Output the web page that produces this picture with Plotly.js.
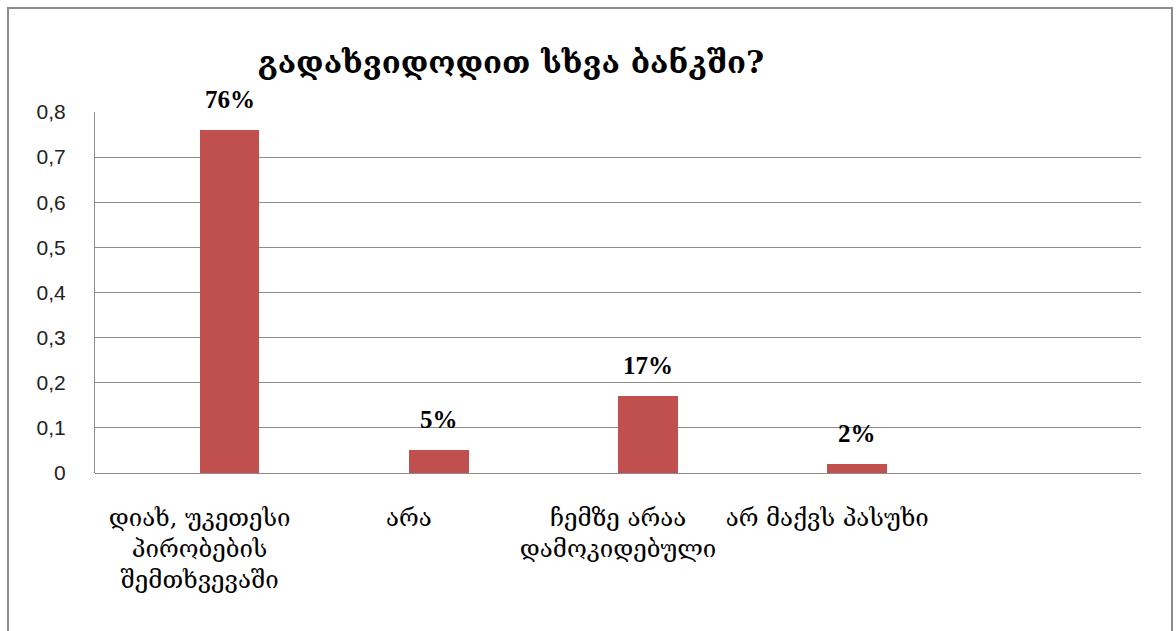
<!DOCTYPE html>
<html>
<head>
<meta charset="utf-8">
<script src="https://cdn.plot.ly/plotly-3.0.1.min.js"></script>
<style>
  html, body { margin: 0; padding: 0; background: #ffffff; }
  #wrap { position: relative; width: 1176px; height: 631px; overflow: hidden; }
  #chart { position: absolute; left: 0; top: 0; width: 1176px; height: 631px; }
  #frame { position: absolute; left: 7px; top: 7px; width: 1162px; height: 700px;
           border: 2px solid #8c8c8c; pointer-events: none; }
</style>
</head>
<body>
<div id="wrap">
  <div id="chart"></div>
  <div id="frame"></div>
</div>
<script>
const chartTitle = 'გადახვიდოდით სხვა ბანკში?';
const categories = [
  'დიახ, უკეთესი<br>პირობების<br>შემთხვევაში',
  'არა',
  'ჩემზე არაა<br>დამოკიდებული',
  'არ მაქვს პასუხი',
  ' '
];
const values = [0.76, 0.05, 0.17, 0.02];
const valueLabels = ['76%', '5%', '17%', '2%'];
const yTicks = [0, 0.1, 0.2, 0.3, 0.4, 0.5, 0.6, 0.7, 0.8];

const georgian = '"DejaVu Serif", "DejaVu Sans", serif';

const trace = {
  type: 'bar',
  x: categories.slice(0, values.length),
  y: values,
  width: 0.2857,
  offset: 0,
  marker: { color: '#C0504D' },
  hoverinfo: 'skip'
};

const annotations = values.map((v, i) => ({
  x: categories[i],
  y: v,
  xref: 'x', yref: 'y',
  text: valueLabels[i],
  showarrow: false,
  xshift: 30,
  yshift: 15,
  yanchor: 'bottom',
  font: { family: '"Liberation Serif", "Times New Roman", serif', size: 25, color: '#000000', weight: 'bold' }
}));

const layout = {
  width: 1176,
  height: 631,
  margin: { l: 95, r: 35, t: 112, b: 158 },
  paper_bgcolor: '#ffffff',
  plot_bgcolor: '#ffffff',
  separators: ',.',
  showlegend: false,
  title: {
    text: '<b>' + chartTitle + '</b>',
    x: 511 / 1176, xanchor: 'center', xref: 'container',
    y: 0.902, yanchor: 'middle', yref: 'container',
    font: { family: georgian, size: 31, color: '#000000' }
  },
  xaxis: {
    type: 'category',
    categoryorder: 'array',
    categoryarray: categories,
    range: [-0.5, 4.5],
    showgrid: false,
    zeroline: false,
    showline: false,
    ticks: '',
    tickfont: { family: georgian, size: 24, color: '#000000' },
    ticklabelstandoff: 28
  },
  yaxis: {
    range: [0, 0.8],
    tickvals: yTicks,
    showgrid: true,
    gridcolor: '#8c8c8c',
    gridwidth: 1,
    zeroline: true,
    zerolinecolor: '#8c8c8c',
    zerolinewidth: 1,
    showline: true,
    linecolor: '#8c8c8c',
    linewidth: 1,
    ticks: '',
    tickfont: { family: '"Liberation Sans", "DejaVu Sans", sans-serif', size: 21, color: '#222222' },
    ticklabelstandoff: 24
  },
  annotations: annotations,
  bargap: 0
};

Plotly.newPlot('chart', [trace], layout, { staticPlot: true, displayModeBar: false });
</script>
</body>
</html>
